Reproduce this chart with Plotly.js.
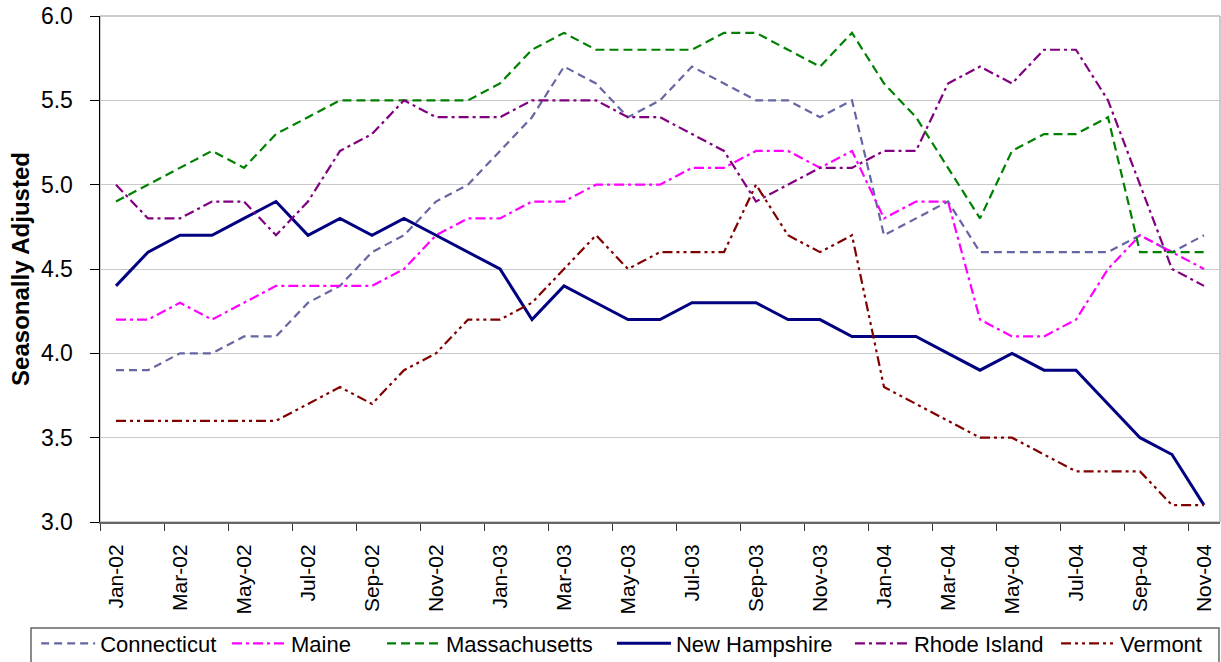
<!DOCTYPE html>
<html>
<head>
<meta charset="utf-8">
<script src="https://cdn.plot.ly/plotly-3.0.1.min.js"></script>
<style>
  html, body { margin: 0; padding: 0; background: #fff; }
  #chart { width: 1221px; height: 662px; }
</style>
</head>
<body>
<div id="chart"></div>
<script>
const months = ["Jan-02","Feb-02","Mar-02","Apr-02","May-02","Jun-02","Jul-02","Aug-02","Sep-02","Oct-02","Nov-02","Dec-02",
                "Jan-03","Feb-03","Mar-03","Apr-03","May-03","Jun-03","Jul-03","Aug-03","Sep-03","Oct-03","Nov-03","Dec-03",
                "Jan-04","Feb-04","Mar-04","Apr-04","May-04","Jun-04","Jul-04","Aug-04","Sep-04","Oct-04","Nov-04"];

const connecticut   = [3.9,3.9,4.0,4.0,4.1,4.1,4.3,4.4,4.6,4.7,4.9,5.0, 5.2,5.4,5.7,5.6,5.4,5.5,5.7,5.6,5.5,5.5,5.4,5.5, 4.7,4.8,4.9,4.6,4.6,4.6,4.6,4.6,4.7,4.6,4.7];
const maine         = [4.2,4.2,4.3,4.2,4.3,4.4,4.4,4.4,4.4,4.5,4.7,4.8, 4.8,4.9,4.9,5.0,5.0,5.0,5.1,5.1,5.2,5.2,5.1,5.2, 4.8,4.9,4.9,4.2,4.1,4.1,4.2,4.5,4.7,4.6,4.5];
const massachusetts = [4.9,5.0,5.1,5.2,5.1,5.3,5.4,5.5,5.5,5.5,5.5,5.5, 5.6,5.8,5.9,5.8,5.8,5.8,5.8,5.9,5.9,5.8,5.7,5.9, 5.6,5.4,5.1,4.8,5.2,5.3,5.3,5.4,4.6,4.6,4.6];
const newHampshire  = [4.4,4.6,4.7,4.7,4.8,4.9,4.7,4.8,4.7,4.8,4.7,4.6, 4.5,4.2,4.4,4.3,4.2,4.2,4.3,4.3,4.3,4.2,4.2,4.1, 4.1,4.1,4.0,3.9,4.0,3.9,3.9,3.7,3.5,3.4,3.1];
const rhodeIsland   = [5.0,4.8,4.8,4.9,4.9,4.7,4.9,5.2,5.3,5.5,5.4,5.4, 5.4,5.5,5.5,5.5,5.4,5.4,5.3,5.2,4.9,5.0,5.1,5.1, 5.2,5.2,5.6,5.7,5.6,5.8,5.8,5.5,5.0,4.5,4.4];
const vermont       = [3.6,3.6,3.6,3.6,3.6,3.6,3.7,3.8,3.7,3.9,4.0,4.2, 4.2,4.3,4.5,4.7,4.5,4.6,4.6,4.6,5.0,4.7,4.6,4.7, 3.8,3.7,3.6,3.5,3.5,3.4,3.3,3.3,3.3,3.1,3.1];

const yTicks = [3.0, 3.5, 4.0, 4.5, 5.0, 5.5, 6.0];

const xIdx = months.map((m, i) => i);
const labelIdx = xIdx.filter(i => i % 2 === 0);
const labelText = labelIdx.map(i => months[i]);
const boundaryTicks = labelIdx.map(i => i - 0.5);

const font = 'Liberation Sans, Arial, sans-serif';

// legend placement (paper x of each legend entry)
const legendX = [-0.057, 0.1134, 0.2518, 0.4571, 0.6696, 0.8536];
const legendY = -0.1986;
const legendNames = ['legend', 'legend2', 'legend3', 'legend4', 'legend5', 'legend6'];

function series(name, y, color, width, dash, k) {
  return {
    type: 'scatter', mode: 'lines', name: name,
    x: xIdx, y: y,
    line: { color: color, width: width, dash: dash },
    legend: legendNames[k],
    hoverinfo: 'skip'
  };
}

const data = [
  series('Connecticut', connecticut, '#6666A3', 2.2, '8px,5px', 0),
  series('Maine', maine, '#FF00FF', 2.2, '10px,4px,3px,4px', 1),
  series('Massachusetts', massachusetts, '#008000', 2.2, '9px,5px', 2),
  series('New Hampshire', newHampshire, '#000080', 3, 'solid', 3),
  series('Rhode Island', rhodeIsland, '#800080', 2.2, '10px,4px,3px,4px', 4),
  series('Vermont', vermont, '#800000', 2.2, '10px,4px,3px,4px,3px,4px', 5)
];

const layout = {
  width: 1221, height: 662,
  margin: { l: 100, r: 1, t: 16, b: 140, autoexpand: false },
  paper_bgcolor: '#fff', plot_bgcolor: '#fff',
  font: { family: font, color: '#000', size: 20 },
  showlegend: true,
  xaxis: {
    range: [-0.5, 34.5],
    tickmode: 'array', tickvals: labelIdx, ticktext: labelText,
    tickangle: -90,
    ticks: '',
    ticklabelstandoff: 12,
    tickfont: { family: font, size: 21 },
    showgrid: false, zeroline: false,
    showline: true, linecolor: '#666', linewidth: 2,
    minor: { tickmode: 'array', tickvals: boundaryTicks, ticks: 'outside', ticklen: 7, tickwidth: 1, tickcolor: '#333', showgrid: false }
  },
  yaxis: {
    range: [3, 6],
    tickmode: 'array', tickvals: yTicks, ticktext: yTicks.map(v => v.toFixed(1)),
    ticks: 'outside', ticklen: 9, tickcolor: '#000', tickwidth: 1,
    ticklabelstandoff: 12,
    tickfont: { family: font, size: 23 },
    showgrid: true, gridcolor: '#c8c8c8', gridwidth: 1,
    zeroline: false,
    showline: true, linecolor: '#000', linewidth: 1.5,
    title: { text: 'Seasonally Adjusted', font: { family: font, size: 24, weight: 'bold' }, standoff: 4 }
  },
  shapes: [
    { type: 'rect', xref: 'paper', yref: 'paper', x0: 0, x1: 1, y0: 0, y1: 1, line: { color: '#999', width: 1 }, layer: 'below' },
    { type: 'rect', xref: 'paper', yref: 'paper', x0: -0.0616, x1: 0.9991, y0: -0.2095, y1: -0.32, line: { color: '#666', width: 1.5 }, fillcolor: 'rgba(0,0,0,0)', layer: 'above' }
  ]
};

legendNames.forEach((nm, k) => {
  layout[nm] = {
    orientation: 'h',
    x: legendX[k], xanchor: 'left',
    y: legendY, yanchor: 'top',
    borderwidth: 0, bgcolor: 'rgba(0,0,0,0)',
    font: { family: font, size: 22, color: '#000' },
    itemwidth: 54
  };
});

Plotly.newPlot('chart', data, layout, { staticPlot: true, displayModeBar: false });
</script>
</body>
</html>
